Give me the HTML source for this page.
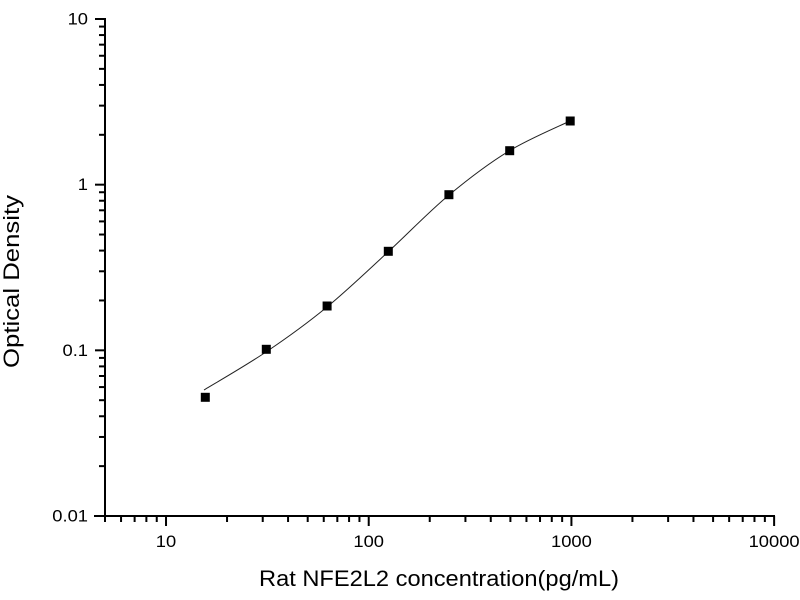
<!DOCTYPE html>
<html>
<head>
<meta charset="utf-8">
<style>
html,body{margin:0;padding:0;background:#fff;}
svg{display:block;}
text{font-family:"Liberation Sans",Arial,sans-serif;fill:#000;}
</style>
</head>
<body>
<svg width="800" height="600" viewBox="0 0 800 600" xmlns="http://www.w3.org/2000/svg">
<rect x="0" y="0" width="800" height="600" fill="#fff"/>

<!-- axes -->
<g stroke="#000" stroke-width="2" fill="none">
  <line x1="105" y1="18" x2="105" y2="517"/>
  <line x1="94" y1="516" x2="775" y2="516"/>
  <!-- Y major ticks -->
  <line x1="95" y1="19" x2="105" y2="19"/>
  <line x1="95" y1="184.67" x2="105" y2="184.67"/>
  <line x1="95" y1="350.33" x2="105" y2="350.33"/>
  <line x1="95" y1="516" x2="105" y2="516"/>
  <!-- Y minor ticks -->
  <g>
    <line x1="99" y1="26.58" x2="105" y2="26.58"/>
    <line x1="99" y1="35.06" x2="105" y2="35.06"/>
    <line x1="99" y1="44.66" x2="105" y2="44.66"/>
    <line x1="99" y1="55.75" x2="105" y2="55.75"/>
    <line x1="99" y1="68.87" x2="105" y2="68.87"/>
    <line x1="99" y1="84.93" x2="105" y2="84.93"/>
    <line x1="99" y1="105.63" x2="105" y2="105.63"/>
    <line x1="99" y1="134.80" x2="105" y2="134.80"/>

    <line x1="99" y1="192.24" x2="105" y2="192.24"/>
    <line x1="99" y1="200.72" x2="105" y2="200.72"/>
    <line x1="99" y1="210.32" x2="105" y2="210.32"/>
    <line x1="99" y1="221.41" x2="105" y2="221.41"/>
    <line x1="99" y1="234.53" x2="105" y2="234.53"/>
    <line x1="99" y1="250.59" x2="105" y2="250.59"/>
    <line x1="99" y1="271.29" x2="105" y2="271.29"/>
    <line x1="99" y1="300.46" x2="105" y2="300.46"/>

    <line x1="99" y1="357.91" x2="105" y2="357.91"/>
    <line x1="99" y1="366.39" x2="105" y2="366.39"/>
    <line x1="99" y1="375.99" x2="105" y2="375.99"/>
    <line x1="99" y1="387.08" x2="105" y2="387.08"/>
    <line x1="99" y1="400.20" x2="105" y2="400.20"/>
    <line x1="99" y1="416.26" x2="105" y2="416.26"/>
    <line x1="99" y1="436.96" x2="105" y2="436.96"/>
    <line x1="99" y1="466.13" x2="105" y2="466.13"/>
  </g>
  <!-- X major ticks -->
  <line x1="166.02" y1="516" x2="166.02" y2="526"/>
  <line x1="368.72" y1="516" x2="368.72" y2="526"/>
  <line x1="571.42" y1="516" x2="571.42" y2="526"/>
  <line x1="774.12" y1="516" x2="774.12" y2="526"/>
  <!-- X minor ticks -->
  <g>
    <line x1="105" y1="516" x2="105" y2="522"/>
    <line x1="121.05" y1="516" x2="121.05" y2="522"/>
    <line x1="134.62" y1="516" x2="134.62" y2="522"/>
    <line x1="146.38" y1="516" x2="146.38" y2="522"/>
    <line x1="156.74" y1="516" x2="156.74" y2="522"/>

    <line x1="227.04" y1="516" x2="227.04" y2="522"/>
    <line x1="262.73" y1="516" x2="262.73" y2="522"/>
    <line x1="288.06" y1="516" x2="288.06" y2="522"/>
    <line x1="307.70" y1="516" x2="307.70" y2="522"/>
    <line x1="323.75" y1="516" x2="323.75" y2="522"/>
    <line x1="337.32" y1="516" x2="337.32" y2="522"/>
    <line x1="349.08" y1="516" x2="349.08" y2="522"/>
    <line x1="359.45" y1="516" x2="359.45" y2="522"/>

    <line x1="429.74" y1="516" x2="429.74" y2="522"/>
    <line x1="465.43" y1="516" x2="465.43" y2="522"/>
    <line x1="490.76" y1="516" x2="490.76" y2="522"/>
    <line x1="510.40" y1="516" x2="510.40" y2="522"/>
    <line x1="526.45" y1="516" x2="526.45" y2="522"/>
    <line x1="540.02" y1="516" x2="540.02" y2="522"/>
    <line x1="551.78" y1="516" x2="551.78" y2="522"/>
    <line x1="562.15" y1="516" x2="562.15" y2="522"/>

    <line x1="632.44" y1="516" x2="632.44" y2="522"/>
    <line x1="668.13" y1="516" x2="668.13" y2="522"/>
    <line x1="693.46" y1="516" x2="693.46" y2="522"/>
    <line x1="713.10" y1="516" x2="713.10" y2="522"/>
    <line x1="729.15" y1="516" x2="729.15" y2="522"/>
    <line x1="742.72" y1="516" x2="742.72" y2="522"/>
    <line x1="754.48" y1="516" x2="754.48" y2="522"/>
    <line x1="764.85" y1="516" x2="764.85" y2="522"/>
  </g>
</g>

<!-- Y tick labels -->
<g font-size="17" text-anchor="end">
  <text x="88" y="24.5" textLength="20.4" lengthAdjust="spacingAndGlyphs">10</text>
  <text x="88" y="190" textLength="10.2" lengthAdjust="spacingAndGlyphs">1</text>
  <text x="88" y="355.8" textLength="25.5" lengthAdjust="spacingAndGlyphs">0.1</text>
  <text x="88" y="521.5" textLength="35.7" lengthAdjust="spacingAndGlyphs">0.01</text>
</g>

<!-- X tick labels -->
<g font-size="17">
  <text x="155.8" y="547" textLength="20.4" lengthAdjust="spacingAndGlyphs">10</text>
  <text x="353.4" y="547" textLength="30.6" lengthAdjust="spacingAndGlyphs">100</text>
  <text x="551" y="547" textLength="40.8" lengthAdjust="spacingAndGlyphs">1000</text>
  <text x="748.6" y="547" textLength="51" lengthAdjust="spacingAndGlyphs">10000</text>
</g>

<!-- Axis titles -->
<text x="259" y="586" font-size="22" textLength="360" lengthAdjust="spacingAndGlyphs">Rat NFE2L2 concentration(pg/mL)</text>
<text transform="translate(19,281.5) rotate(-90)" x="0" y="0" font-size="22" text-anchor="middle" textLength="173" lengthAdjust="spacingAndGlyphs">Optical Density</text>

<!-- fitted curve -->
<path d="M204,390 C214.3,383.7 245.5,365.8 266,352 C286.5,338.2 306.7,323.7 327,307 C347.3,290.3 367.7,270.7 388,252 C408.3,233.3 428.8,211.8 449,195 C469.2,178.2 488.8,163.3 509,151 C529.2,138.7 559.8,126 570,121"
      fill="none" stroke="#222" stroke-width="1"/>

<!-- data points -->
<g fill="#000">
  <rect x="200.8" y="392.8" width="9" height="9"/>
  <rect x="261.8" y="344.8" width="9" height="9"/>
  <rect x="322.6" y="301.5" width="9" height="9"/>
  <rect x="383.8" y="246.8" width="9" height="9"/>
  <rect x="444.4" y="190.2" width="9" height="9"/>
  <rect x="505.2" y="146.2" width="9" height="9"/>
  <rect x="565.7" y="116.5" width="9" height="9"/>
</g>
</svg>
</body>
</html>
